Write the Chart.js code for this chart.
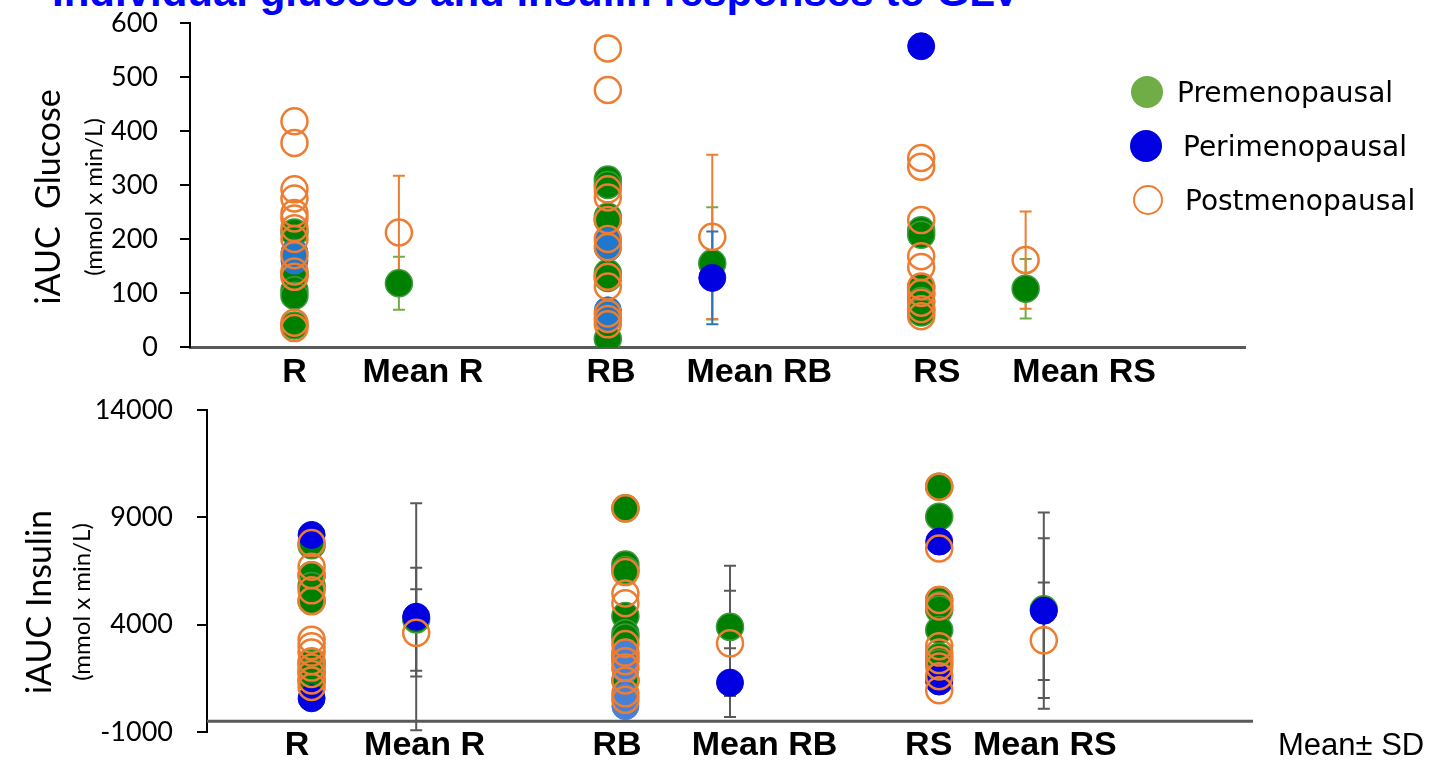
<!DOCTYPE html>
<html>
<head>
<meta charset="utf-8">
<script src="https://cdn.jsdelivr.net/npm/chart.js@4"></script>
<style>
body { margin:0; background:#fff; width:1446px; height:763px; overflow:hidden; position:relative; font-family: Lato, sans-serif; }
canvas { position:absolute; left:0; }
#glucoseChart { top:0; }
#insulinChart { top:385px; }
#title { position:absolute; left:52px; top:-29px; font:bold 42px "Liberation Sans", Arial, sans-serif; line-height:42px; color:#0000FF; white-space:nowrap; }
.ytitle { position:absolute; transform:translate(-50%,-50%) rotate(-90deg); white-space:nowrap; color:#000; font-family:Lato, sans-serif; }
.big { font-size:34px; }
.small { font-size:24px; }
.lg-dot { position:absolute; width:32px; height:32px; border-radius:50%; transform:translate(-50%,-50%); box-sizing:border-box; }
.lg-text { position:absolute; transform:translateY(-50%); font:28px "DejaVu Sans", sans-serif; color:#000; white-space:nowrap; }
#note { position:absolute; left:1278px; top:745px; transform:translateY(-50%); font:31px "Liberation Sans", Arial, sans-serif; color:#000; white-space:nowrap; }
</style>
</head>
<body>
<div id="title">Individual glucose and insulin responses to GLV</div>
<canvas id="glucoseChart" width="1446" height="395"></canvas>
<canvas id="insulinChart" width="1446" height="390"></canvas>

<div class="ytitle big" style="left:46px; top:197px;">iAUC&nbsp; Glucose</div>
<div class="ytitle small" style="left:92px; top:197px;">(mmol x min/L)</div>
<div class="ytitle big" style="left:37px; top:602px;">iAUC Insulin</div>
<div class="ytitle small" style="left:80px; top:602px;">(mmol x min/L)</div>

<div class="lg-dot" style="left:1147px; top:92px; background:#70AD47;"></div>
<div class="lg-text" style="left:1177px; top:92px;">Premenopausal</div>
<div class="lg-dot" style="left:1146px; top:146px; background:#0000E0;"></div>
<div class="lg-text" style="left:1183px; top:146px;">Perimenopausal</div>
<div class="lg-dot" style="left:1148px; top:200px; width:30px; height:30px; border:2.5px solid #ED7D31; background:#fff;"></div>
<div class="lg-text" style="left:1185px; top:200px;">Postmenopausal</div>

<div id="note">Mean± SD</div>

<script>
const categories = ["R", "Mean R", "RB", "Mean RB", "RS", "Mean RS"];

// GLUCOSE - individual values per test meal [R, RB, RS]
const glucosePre = [[212, 135, 105, 95, 40], [310, 300, 241, 235, 137, 128, 15], [216, 208, 110, 98, 85, 70, 64]];
const glucosePeri = [[175, 160], [195, 183, 68, 55], [557]];
const glucosePost = [[418, 378, 292, 275, 248, 238, 220, 200, 170, 140, 130, 45, 35],
                     [553, 476, 292, 277, 235, 200, 185, 130, 112, 62, 52, 42],
                     [350, 334, 235, 168, 148, 112, 100, 82, 70, 57]];
// GLUCOSE - means and SD [R, RB, RS]
const glucosePreMean = [118, 155, 108];
const glucosePreSD = [49, 104, 55];
const glucosePeriMean = [null, 128, null];
const glucosePeriSD = [null, 86, null];
const glucosePostMean = [212, 204, 161];
const glucosePostSD = [105, 152, 90];

// INSULIN - individual values per test meal [R, RB, RS]
const insulinPre = [[7700, 6300, 5800, 5100, 2200, 1800, 1400],
                    [9420, 6800, 6550, 4400, 3600, 3400, 2500, 1400],
                    [10430, 9030, 5150, 4900, 4700, 3750, 2500, 2200]];
const insulinPeri = [[8180, 570], [2700, 2300, 1900, 650, 200], [7870, 1600, 1350]];
const insulinPost = [[7800, 6700, 6300, 5600, 5100, 3300, 3000, 2700, 2300, 2000, 1700, 1400, 1100],
                     [9420, 6450, 5450, 5000, 3100, 2700, 2300, 2000, 1400, 800, 500],
                     [10430, 7550, 5150, 4850, 3000, 2700, 2350, 2050, 1600, 950]];
// INSULIN - means and SD [R, RB, RS]
const insulinPreMean = [4250, 3900, 4720];
const insulinPreSD = [2400, 2840, 3300];
const insulinPeriMean = [4370, 1300, 4650];
const insulinPeriSD = [5290, 1600, 4570];
const insulinPostMean = [3620, 3130, 3270];
const insulinPostSD = [2030, 2450, 2690];

// y tick setup [min, max, step]
const glucoseTicks = [0, 600, 100];
const insulinTicks = [-1000, 14000, 5000];

// each test meal c sits at x = 3c+1, its mean at x = 3c+2
function buildPoints(individual, means) {
    let pts = [];
    individual.forEach((vals, c) => {
        vals.forEach(v => pts.push({x: 3 * c + 1, y: v}));
    });
    means.forEach((m, c) => {
        if (m !== null) pts.push({x: 3 * c + 2, y: m});
    });
    return pts;
}

function buildBars(means, sds, color) {
    let bars = [];
    means.forEach((m, c) => {
        if (m !== null) bars.push({x: 3 * c + 2, mean: m, sd: sds[c], color: color});
    });
    return bars;
}

const errorBarPlugin = {
    id: 'errorBars',
    beforeDatasetsDraw(chart, args, opts) {
        const ctx = chart.ctx, xs = chart.scales.x, ys = chart.scales.y;
        ctx.save();
        if (opts.baseline !== null) {
            let y = ys.getPixelForValue(opts.baseline);
            ctx.strokeStyle = '#595959';
            ctx.lineWidth = 3;
            ctx.beginPath();
            ctx.moveTo(chart.chartArea.left, y);
            ctx.lineTo(chart.chartArea.right, y);
            ctx.stroke();
        }
        ctx.lineWidth = 2;
        opts.bars.forEach(b => {
            let x = xs.getPixelForValue(b.x);
            let top = ys.getPixelForValue(b.mean + b.sd);
            let bot = ys.getPixelForValue(b.mean - b.sd);
            ctx.strokeStyle = b.color;
            ctx.beginPath();
            ctx.moveTo(x, top); ctx.lineTo(x, bot);
            ctx.moveTo(x - 6, top); ctx.lineTo(x + 6, top);
            ctx.moveTo(x - 6, bot); ctx.lineTo(x + 6, bot);
            ctx.stroke();
        });
        ctx.restore();
    }
};

function makeChart(id, cfg) {
    const periColor = (ctx) => {
        let p = ctx.raw;
        if (p && p.x % 3 === 1 && cfg.lightPeri.includes((p.x - 1) / 3)) return cfg.lightBlue;
        return '#0000E0';
    };
    return new Chart(document.getElementById(id), {
        type: 'scatter',
        data: {
            datasets: [
                {label: 'Postmenopausal', data: cfg.post, backgroundColor: 'rgba(255,255,255,0)',
                 borderColor: '#ED7D31', borderWidth: 2.5, pointRadius: 13},
                {label: 'Perimenopausal', data: cfg.peri, backgroundColor: periColor,
                 borderColor: periColor, borderWidth: 1, pointRadius: 13.5},
                {label: 'Premenopausal', data: cfg.pre, backgroundColor: '#008000',
                 borderColor: '#3E9A3A', borderWidth: 1.5, pointRadius: 13.5}
            ]
        },
        options: {
            responsive: false,
            animation: false,
            events: [],
            layout: {padding: cfg.padding},
            plugins: {
                legend: {display: false},
                tooltip: {enabled: false},
                errorBars: {bars: cfg.bars, baseline: cfg.baseline}
            },
            scales: {
                x: {
                    type: 'linear',
                    min: cfg.xRange[0], max: cfg.xRange[1],
                    grid: {display: false},
                    border: {display: cfg.xBorder, color: '#595959', width: 3},
                    afterBuildTicks: s => { s.ticks = cfg.labelPos.map(v => ({value: v})); },
                    afterFit: s => { s.height = cfg.xHeight; },
                    ticks: {
                        autoSkip: false, maxRotation: 0, padding: cfg.labelPad, color: '#000',
                        font: {family: 'Liberation Sans', size: 34, weight: 'bold', lineHeight: 1},
                        callback: (v, i) => categories[i]
                    }
                },
                y: {
                    min: cfg.ticks[0], max: cfg.ticks[1],
                    // fixed width, and no extra top/bottom room for the labels
                    afterFit: s => { s.width = cfg.yWidth; s.paddingTop = 0; s.paddingBottom = 0; },
                    ticks: {stepSize: cfg.ticks[2], padding: cfg.yPad, color: '#000',
                            font: {family: 'Lato', size: 27},
                            callback: v => String(v)},
                    grid: {drawOnChartArea: false, drawTicks: true, tickLength: 10, color: '#000', lineWidth: 2},
                    border: {color: '#000', width: 2}
                }
            }
        },
        plugins: [errorBarPlugin]
    });
}

makeChart('glucoseChart', {
    pre: buildPoints(glucosePre, glucosePreMean),
    peri: buildPoints(glucosePeri, glucosePeriMean),
    post: buildPoints(glucosePost, glucosePostMean),
    bars: [].concat(buildBars(glucosePreMean, glucosePreSD, '#70AD47'),
                    buildBars(glucosePostMean, glucosePostSD, '#ED7D31'),
                    buildBars(glucosePeriMean, glucosePeriSD, '#2E75B6')),
    baseline: null,
    lightPeri: [0, 1],
    lightBlue: '#1F78CC',
    xRange: [0, 10.1],
    labelPos: [1, 2.23, 4.03, 5.45, 7.15, 8.56],
    xBorder: true,
    xHeight: 48,
    labelPad: 1,
    ticks: glucoseTicks,
    yWidth: 190,
    yPad: 22,
    padding: {left: 0, top: 23, right: 201, bottom: 0}
});

makeChart('insulinChart', {
    pre: buildPoints(insulinPre, insulinPreMean),
    peri: buildPoints(insulinPeri, insulinPeriMean),
    post: buildPoints(insulinPost, insulinPostMean),
    bars: [].concat(buildBars(insulinPreMean, insulinPreSD, '#595959'),
                    buildBars(insulinPostMean, insulinPostSD, '#595959'),
                    buildBars(insulinPeriMean, insulinPeriSD, '#595959')),
    baseline: -500,
    lightPeri: [1],
    lightBlue: '#4A7FD6',
    xRange: [0, 10],
    labelPos: [0.86, 2.08, 3.92, 5.33, 6.9, 8.01],
    xBorder: false,
    xHeight: 43,
    labelPad: -11,
    ticks: insulinTicks,
    yWidth: 207,
    yPad: 24,
    padding: {left: 0, top: 25, right: 193, bottom: 0}
});
</script>
</body>
</html>
